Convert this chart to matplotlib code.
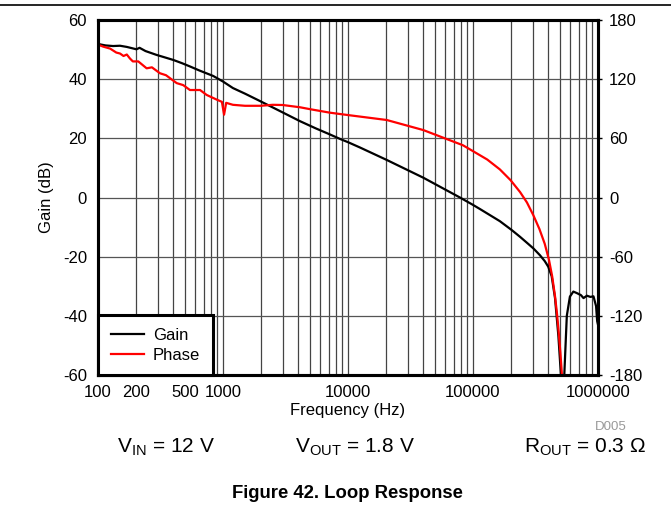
import matplotlib
matplotlib.use("Agg")
import matplotlib.pyplot as plt
from matplotlib.ticker import FixedLocator, LogLocator, NullFormatter, FixedFormatter

plt.rcParams['font.family'] = ['Liberation Sans', 'DejaVu Sans']
plt.rcParams['mathtext.fontset'] = 'custom'
plt.rcParams['mathtext.rm'] = 'Liberation Sans'
plt.rcParams['mathtext.it'] = 'Liberation Sans:italic'
plt.rcParams['axes.unicode_minus'] = False

# Gain curve (Hz, dB)
gain_freq = [100, 115, 132, 150, 170, 203, 215, 240, 294, 340, 400, 470, 544, 650,
             833, 1000, 1200, 1500, 1977, 2800, 4130, 5500, 7180, 8630, 10000,
             12470, 20400, 40000, 78600, 100000, 113700, 164000, 204000, 238000,
             270000, 304000, 343000, 375000, 400000, 426000, 453000, 482000, 507000, 520000,
             535000, 550000, 563000, 596000, 635000, 676000, 730000,
             766000, 815000, 870000, 920000, 965000, 985000, 1000000]
gain_db = [51.9, 51.4, 51.2, 51.3, 50.9, 50.1, 50.6, 49.5, 48.2, 47.4, 46.5, 45.4, 44.3, 42.9,
           41.1, 39.2, 37.0, 35.1, 32.6, 29.4, 25.8, 23.4, 21.3, 19.8, 18.7,
           16.9, 12.7, 6.7, 0.0, -2.5, -3.9, -8.0, -11.0, -13.3,
           -15.3, -17.2, -19.5, -21.5, -23.4, -26.6, -34.0, -46.8, -61.0, -63.0,
           -62.0, -50.0, -40.0, -33.5, -31.8, -32.3, -33.0,
           -34.0, -33.2, -33.6, -33.4, -36.7, -41.8, -43.0]

# Phase curve (Hz, degrees)
phase_freq = [100, 110, 125, 140, 150, 160, 170, 180, 190, 210, 245, 270, 313, 350,
              426, 480, 544, 655, 740, 900, 980, 1020, 1060, 1200, 1500, 2000,
              2500, 3000, 4130, 5000, 7180, 10000, 20400, 40000, 83000, 100000,
              130000, 164000, 200000, 238000, 270000, 304000, 340000, 375000, 405000,
              430000, 453000, 470000, 482000, 500000, 516000, 525000]
phase_deg = [155, 153, 151, 147, 146, 143.5, 145, 141, 138, 138, 131, 132, 126, 124,
             116, 114, 109, 109, 104, 99, 97, 84, 96, 94, 93, 93,
             94, 93.8, 91.5, 89.5, 86, 83.6, 78.6, 68.4, 53, 47,
             38.5, 28.5, 17.5, 5.5, -5, -18, -32, -47, -63,
             -80, -100, -118, -133, -157, -182, -200]

xtick_vals = [100, 200, 500, 1000, 10000, 100000, 1000000]
xtick_text = ['100', '200', '500', '1000', '10000', '100000', '1000000']
gain_ticks = [-60, -40, -20, 0, 20, 40, 60]
phase_ticks = [-180, -120, -60, 0, 60, 120, 180]

fig = plt.figure(figsize=(6.71, 5.18), dpi=100)
ax = fig.add_axes([98 / 671, 1 - 375 / 518, 500 / 671, 355 / 518])
ax2 = ax.twinx()

l1, = ax.plot(gain_freq, gain_db, color='black', lw=1.6, label='Gain')
l2, = ax2.plot(phase_freq, phase_deg, color='red', lw=1.6, label='Phase')

ax.set_xscale('log')
ax.set_xlim(100, 1e6)
ax.set_ylim(-60, 60)
ax2.set_ylim(-180, 180)

ax.xaxis.set_major_locator(FixedLocator(xtick_vals))
ax.xaxis.set_major_formatter(FixedFormatter(xtick_text))
ax.xaxis.set_minor_locator(LogLocator(base=10, subs=range(1, 10), numticks=20))
ax.xaxis.set_minor_formatter(NullFormatter())
ax.set_yticks(gain_ticks)
ax2.set_yticks(phase_ticks)

ax.grid(True, which='both', axis='x', color='#444444', lw=0.9)
ax.grid(True, which='major', axis='y', color='#555555', lw=0.9)

ax.tick_params(axis='x', which='both', length=0, pad=7, labelsize=12)
ax.tick_params(axis='y', length=0, pad=8, labelsize=12)
ax2.tick_params(axis='y', length=3, width=1, pad=5, labelsize=12)

for a in (ax, ax2):
    for s in a.spines.values():
        s.set_linewidth(2.2)

ax.set_xlabel('Frequency (Hz)', fontsize=12, labelpad=2)
ax.set_ylabel('Gain (dB)', fontsize=12, labelpad=6)

leg = ax2.legend(handles=[l1, l2], loc='lower left', bbox_to_anchor=(0, 0),
                 borderaxespad=0, fancybox=False, framealpha=1, fontsize=12,
                 handlelength=2.0, handletextpad=0.55, borderpad=0.75, labelspacing=0.3)
leg.get_frame().set_edgecolor('black')
leg.get_frame().set_linewidth(2.2)

# top rule
fig.add_artist(plt.Line2D([0, 1], [1 - 5 / 518, 1 - 5 / 518], color='black', lw=1.2))

fig.text(611 / 671, 1 - 427 / 518, 'D005', color='#999999', fontsize=9.5, ha='center', va='center')
fig.text(166 / 671, 1 - 447 / 518, r'V$_{\mathrm{IN}}$ = 12 V', fontsize=15, ha='center', va='center')
fig.text(355 / 671, 1 - 447 / 518, r'V$_{\mathrm{OUT}}$ = 1.8 V', fontsize=15, ha='center', va='center')
fig.text(585 / 671, 1 - 447 / 518, r'R$_{\mathrm{OUT}}$ = 0.3 Ω', fontsize=15, ha='center', va='center')
fig.text(347 / 671, 1 - 493 / 518, 'Figure 42. Loop Response', fontsize=13.3, fontweight='bold',
         ha='center', va='center')

fig.savefig('out.png', dpi=100)
